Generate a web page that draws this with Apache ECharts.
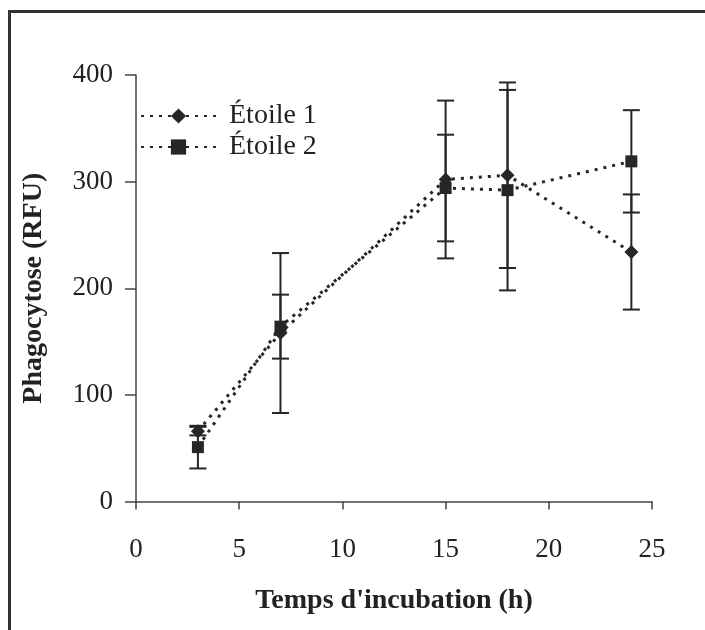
<!DOCTYPE html>
<html><head><meta charset="utf-8">
<script src="https://cdn.jsdelivr.net/npm/echarts@6/dist/echarts.min.js"></script>
<style>html,body{margin:0;padding:0;background:#fff}#c{width:705px;height:630px}</style>
</head><body><div id="c"></div>
<script>
const hours = [3, 7, 15, 18, 24];
const etoile1 = [66, 158, 302, 306, 234];
const etoile1Err = [4, 75, 74, 87, 54];
const etoile2 = [51, 164, 294, 292, 319];
const etoile2Err = [20, 30, 50, 94, 48];
const xTicks = [0, 5, 10, 15, 20, 25];
const yTicks = [0, 100, 200, 300, 400];
const seriesNames = ['Étoile 1', 'Étoile 2'];

const ink = '#262626';
const font = 'Liberation Serif';

function errData(vals, errs) {
  return hours.map((h, i) => [h, vals[i] - errs[i], vals[i] + errs[i]]);
}
function errRender(params, api) {
  const x = api.value(0);
  const lo = api.coord([x, api.value(1)]);
  const hi = api.coord([x, api.value(2)]);
  const w = 8.5;
  const st = {stroke: ink, lineWidth: 2};
  return {type: 'group', children: [
    {type: 'line', shape: {x1: lo[0], y1: lo[1], x2: hi[0], y2: hi[1]}, style: st},
    {type: 'line', shape: {x1: lo[0]-w, y1: lo[1], x2: lo[0]+w, y2: lo[1]}, style: st},
    {type: 'line', shape: {x1: hi[0]-w, y1: hi[1], x2: hi[0]+w, y2: hi[1]}, style: st}
  ]};
}

const chart = echarts.init(document.getElementById('c'), null, {renderer: 'canvas'});
chart.setOption({
  animation: false,
  backgroundColor: '#fff',
  grid: {left: 136, right: 53, top: 75, bottom: 128.5, containLabel: false},
  legend: {
    left: 140, top: 102, orient: 'vertical', itemGap: 3, padding: [0, 0, 0, 0],
    itemWidth: 75, itemHeight: 19,
    data: seriesNames,
    textStyle: {fontFamily: font, fontSize: 28, color: '#222', padding: [0, 0, 0, 8]}
  },
  xAxis: {
    type: 'value', min: 0, max: 25, interval: 5,
    name: "Temps d'incubation (h)", nameLocation: 'middle', nameGap: 85,
    nameTextStyle: {fontFamily: font, fontSize: 28, fontWeight: 'bold', color: '#222'},
    axisLine: {lineStyle: {color: '#444', width: 1.5}},
    axisTick: {show: true, length: 8, lineStyle: {color: '#444', width: 1.5}},
    axisLabel: {fontFamily: font, fontSize: 27, color: '#222', margin: 35,
      formatter: v => xTicks.includes(v) ? String(v) : ''},
    splitLine: {show: false}
  },
  yAxis: {
    type: 'value', min: 0, max: 400, interval: 100,
    name: 'Phagocytose (RFU)', nameLocation: 'middle', nameGap: 88,
    nameTextStyle: {fontFamily: font, fontSize: 28, fontWeight: 'bold', color: '#222'},
    axisLine: {show: true, lineStyle: {color: '#444', width: 1.5}},
    axisTick: {show: true, length: 11, lineStyle: {color: '#444', width: 1.5}},
    axisLabel: {fontFamily: font, fontSize: 27, color: '#222', margin: 23,
      formatter: v => yTicks.includes(v) ? String(v) : ''},
    splitLine: {show: false}
  },
  series: [
    {type: 'custom', renderItem: errRender, data: errData(etoile1, etoile1Err), z: 1, silent: true},
    {type: 'custom', renderItem: errRender, data: errData(etoile2, etoile2Err), z: 1, silent: true},
    {name: seriesNames[0], type: 'line', data: hours.map((h, i) => [h, etoile1[i]]),
      symbol: 'diamond', symbolSize: 14, z: 3,
      itemStyle: {color: ink},
      lineStyle: {color: ink, width: 3, type: [3, 6]}},
    {name: seriesNames[1], type: 'line', data: hours.map((h, i) => [h, etoile2[i]]),
      symbol: 'rect', symbolSize: 12, z: 3,
      itemStyle: {color: ink},
      lineStyle: {color: ink, width: 3, type: [3, 6]}}
  ],
  graphic: [
    {type: 'line', shape: {x1: 9.5, y1: 10, x2: 9.5, y2: 630}, style: {stroke: '#333', lineWidth: 3}},
    {type: 'line', shape: {x1: 8, y1: 11.5, x2: 705, y2: 11.5}, style: {stroke: '#333', lineWidth: 3}}
  ]
});
</script></body></html>
